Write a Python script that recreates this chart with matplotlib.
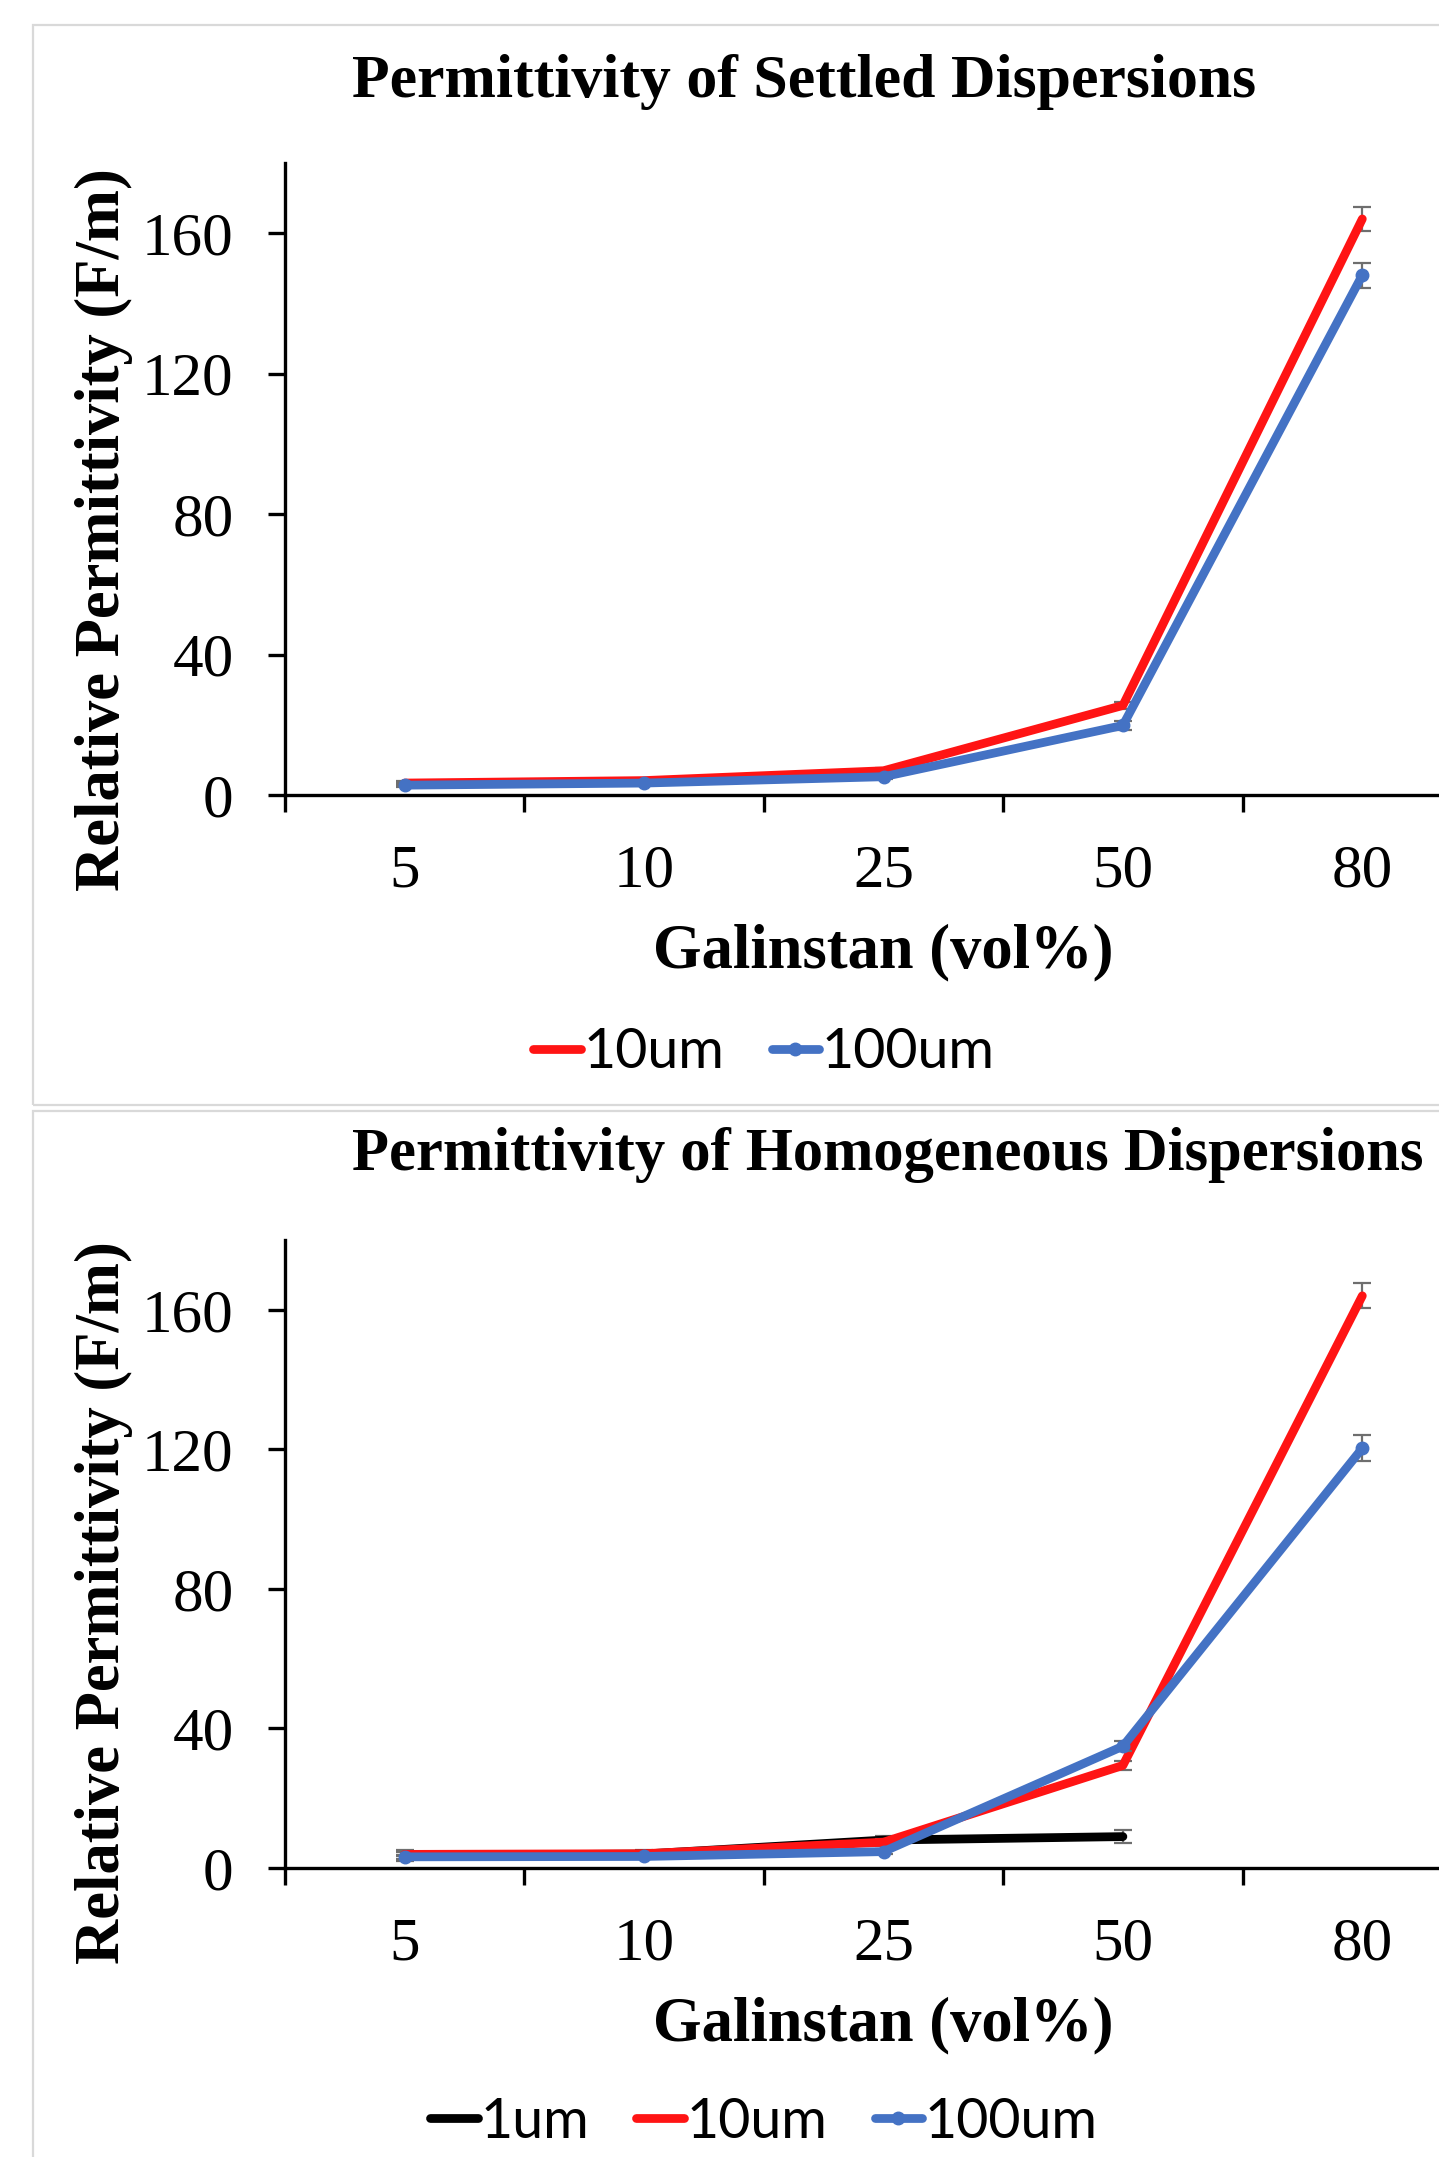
import matplotlib
matplotlib.use("Agg")
import matplotlib.pyplot as plt
from matplotlib.patches import Rectangle
import numpy as np

# ---------------- data ----------------
categories = ['5', '10', '25', '50', '80']

settled_10um = [3.4, 4.1, 6.9, 25.5, 164.0]
settled_10um_err = [0.5, 0.5, 0.8, 1.0, 3.5]
settled_100um = [2.8, 3.4, 5.2, 19.8, 148.0]
settled_100um_err = [0.5, 0.5, 0.7, 1.2, 3.6]

homo_1um = [3.6, 4.0, 8.0, 9.0]
homo_1um_err = [1.5, 1.2, 1.2, 1.8]
homo_10um = [3.9, 4.1, 7.4, 29.4, 164.0]
homo_10um_err = [0.6, 0.6, 1.0, 1.2, 3.6]
homo_100um = [3.2, 3.3, 4.7, 34.9, 120.3]
homo_100um_err = [0.6, 0.5, 0.6, 1.5, 3.7]

yticks = [0, 40, 80, 120, 160]

titles = ['Permittivity of Settled Dispersions', 'Permittivity of Homogeneous Dispersions']
xlabel = 'Galinstan (vol%)'
ylabel = 'Relative Permittivity (F/m)'

# ---------------- style ----------------
W, H = 1439, 2157
DPI = 100
RED = '#FF1414'
BLUE = '#4472C4'
BLACK = '#000000'
ERRC = '#6E6E6E'
SERIF = 'Liberation Serif'
SANS = 'Lato'

fig = plt.figure(figsize=(W / DPI, H / DPI), dpi=DPI)
fig.patch.set_facecolor('white')


def fx(x):
    return x / W


def fy(y):
    return 1 - y / H


# panel borders
for (top, bottom) in [(25, 1105), (1111, 2200)]:
    fig.patches.append(Rectangle((fx(33), fy(bottom)), fx(1600) - fx(33), fy(top) - fy(bottom),
                                 transform=fig.transFigure, facecolor='none',
                                 edgecolor='#D9D9D9', linewidth=1.6, zorder=-10))

xc = np.arange(len(categories)) + 0.5


def make_axes(y_axis, y_top):
    ax = fig.add_axes([fx(285), fy(y_axis), fx(1482) - fx(285), fy(y_top) - fy(y_axis)])
    ax.set_zorder(5)
    ax.patch.set_visible(False)
    ax.set_xlim(0, 5)
    ax.set_ylim(0, 180)
    for s in ['top', 'right']:
        ax.spines[s].set_visible(False)
    for s in ['left', 'bottom']:
        ax.spines[s].set_linewidth(2.4)
    ax.set_yticks(yticks)
    ax.set_yticklabels([str(v) for v in yticks], fontfamily=SERIF, fontsize=44)
    ax.tick_params(axis='y', length=12, width=2.4, pad=25, direction='out')
    ax.set_xticks(range(6))
    ax.set_xticklabels([''] * 6)
    ax.tick_params(axis='x', which='major', length=12, width=2.4, direction='out')
    ax.set_xticks(xc, categories, minor=True)
    for lab in ax.get_xticklabels(minor=True):
        lab.set_fontfamily(SERIF)
        lab.set_fontsize(44)
    ax.tick_params(axis='x', which='minor', length=0, pad=35)
    return ax


def series(ax, y, err, color, marker, z):
    n = len(y)
    ax.errorbar(xc[:n], y, yerr=err, fmt='none', ecolor=ERRC, elinewidth=1.6,
                capsize=6.5, capthick=1.6, zorder=z - 0.5)
    line, = ax.plot(xc[:n], y, color=color, lw=6.3, marker=marker, markersize=9,
                    solid_capstyle='round', solid_joinstyle='round', zorder=z)
    return line


def labels(ax, y_axis, title, title_size, handles, names, leg_y):
    fig.text(fx(352), fy(y_axis - 698), title, fontfamily=SERIF, fontweight='bold',
             fontsize=title_size, ha='left', va='baseline')
    fig.text(fx(883), fy(y_axis + 172), xlabel, fontfamily=SERIF, fontweight='bold',
             fontsize=45, ha='center', va='baseline')
    fig.text(fx(119), fy(y_axis - 265), ylabel, fontfamily=SERIF, fontweight='bold',
             fontsize=45, ha='center', va='baseline', rotation=90, rotation_mode='anchor')
    ax.legend(handles, names, loc='center', bbox_to_anchor=(fx(764), fy(leg_y)),
              bbox_transform=fig.transFigure, ncol=len(names), frameon=False,
              prop={'family': SANS, 'size': 40}, handlelength=0.85,
              handletextpad=0.05, columnspacing=0.85, borderaxespad=0, borderpad=0)


# top chart
ax1 = make_axes(795, 162.75)
l10 = series(ax1, settled_10um, settled_10um_err, RED, None, 4)
l100 = series(ax1, settled_100um, settled_100um_err, BLUE, 'o', 5)
labels(ax1, 795, titles[0], 44.5, [l10, l100], ['10um', '100um'], 1053)

# bottom chart
ax2 = make_axes(1868, 1240)
b1 = series(ax2, homo_1um, homo_1um_err, BLACK, None, 3)
b10 = series(ax2, homo_10um, homo_10um_err, RED, None, 4)
b100 = series(ax2, homo_100um, homo_100um_err, BLUE, 'o', 5)
labels(ax2, 1868, titles[1], 43.6, [b1, b10, b100], ['1um', '10um', '100um'], 2122)

fig.savefig('out.png', dpi=DPI, facecolor='white')
